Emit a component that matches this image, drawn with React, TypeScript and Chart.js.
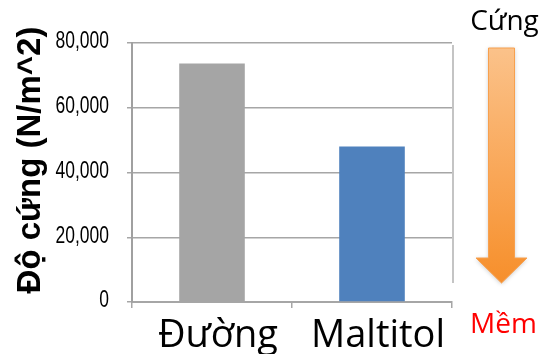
import React, { useEffect, useRef } from "react";
import { Chart, registerables } from "chart.js";

Chart.register(...registerables);

const categories = ["Đường", "Maltitol"];
const hardness = [73700, 48000];
const barColors = ["#a5a5a5", "#4f81bd"];
const yTickValues = [0, 20000, 40000, 60000, 80000];
const yTitle = "Độ cứng (N/m^2)";
const topLabel = "Cứng";
const bottomLabel = "Mềm";

const W = 548;
const H = 354;

const formatTick = (v: number) => v.toLocaleString("en-US");

// Condensed value labels for the y axis, placed at the scale's own tick positions.
const yLabels = {
  id: "yLabels",
  afterDraw(chart: Chart) {
    const ctx = chart.ctx;
    const y = chart.scales.y;
    ctx.save();
    ctx.font = "23px 'Liberation Sans', Arial, sans-serif";
    ctx.fillStyle = "#000";
    ctx.textAlign = "right";
    ctx.textBaseline = "middle";
    for (const v of yTickValues) {
      ctx.save();
      ctx.translate(109, y.getPixelForValue(v) - 1);
      ctx.scale(0.76, 1);
      ctx.fillText(formatTick(v), 0, 0);
      ctx.restore();
    }
    ctx.restore();
  },
};

// Side annotations: hardness arrow, its end labels, the rotated axis title and the frame line.
const decorations = {
  id: "decorations",
  afterDraw(chart: Chart) {
    const ctx = chart.ctx;
    const area = chart.chartArea;
    ctx.save();

    // right frame line
    ctx.strokeStyle = "#c4c4c4";
    ctx.lineWidth = 2;
    ctx.beginPath();
    ctx.moveTo(area.right + 1, area.top + 2);
    ctx.lineTo(area.right + 1, 283);
    ctx.stroke();

    // axis title
    ctx.save();
    ctx.translate(40, 160);
    ctx.rotate(-Math.PI / 2);
    ctx.font = "bold 33px 'Liberation Sans', Arial, sans-serif";
    ctx.fillStyle = "#000";
    ctx.textAlign = "center";
    ctx.textBaseline = "alphabetic";
    ctx.fillText(yTitle, 0, 0);
    ctx.restore();

    // arrow from hard to soft
    const cx = 501.5;
    const shaftHalf = 13;
    const headHalf = 25.5;
    const top = 48;
    const headTop = 258;
    const tip = 283;
    const grad = ctx.createLinearGradient(0, top, 0, tip);
    grad.addColorStop(0, "#fbc28a");
    grad.addColorStop(0.55, "#f9a656");
    grad.addColorStop(0.9, "#f79434");
    grad.addColorStop(1, "#f68f2c");
    ctx.beginPath();
    ctx.moveTo(cx - shaftHalf, top);
    ctx.lineTo(cx + shaftHalf, top);
    ctx.lineTo(cx + shaftHalf, headTop);
    ctx.lineTo(cx + headHalf, headTop);
    ctx.lineTo(cx, tip);
    ctx.lineTo(cx - headHalf, headTop);
    ctx.lineTo(cx - shaftHalf, headTop);
    ctx.closePath();
    ctx.shadowColor = "rgba(0,0,0,0.22)";
    ctx.shadowBlur = 4;
    ctx.shadowOffsetY = 1;
    ctx.fillStyle = grad;
    ctx.fill();
    ctx.shadowColor = "transparent";
    ctx.strokeStyle = "#f7a04e";
    ctx.lineWidth = 1;
    ctx.stroke();

    // arrow end labels
    ctx.font = "28px 'Open Sans', sans-serif";
    ctx.textAlign = "center";
    ctx.textBaseline = "alphabetic";
    ctx.fillStyle = "#000";
    ctx.fillText(topLabel, 504.5, 30);
    ctx.fillStyle = "#ff0000";
    ctx.fillText(bottomLabel, 503.5, 333);

    ctx.restore();
  },
};

export default function App() {
  const canvasRef = useRef<HTMLCanvasElement | null>(null);

  useEffect(() => {
    const canvas = canvasRef.current;
    if (!canvas) return;
    const chart = new Chart(canvas, {
      type: "bar",
      data: {
        labels: categories,
        datasets: [
          {
            data: hardness,
            backgroundColor: barColors,
            barPercentage: 0.41,
            categoryPercentage: 1,
          },
        ],
      },
      options: {
        responsive: false,
        animation: false,
        events: [],
        layout: { padding: { top: 43, right: 96, bottom: 0, left: 0 } },
        plugins: {
          legend: { display: false },
          tooltip: { enabled: false },
        },
        scales: {
          x: {
            offset: true,
            grid: {
              display: true,
              offset: true,
              drawOnChartArea: false,
              drawTicks: true,
              tickLength: 6,
              color: "#a6a6a6",
              lineWidth: 1.5,
            },
            border: { display: true, color: "#a6a6a6", width: 2 },
            ticks: {
              color: "#000",
              font: { family: "'Open Sans', sans-serif", size: 38 },
              padding: 5,
              labelOffset: 6,
              maxRotation: 0,
            },
            afterFit(scale: any) {
              scale.height = 52;
            },
          },
          y: {
            min: 0,
            max: 80000,
            afterBuildTicks(scale: any) {
              scale.ticks = yTickValues.map((v) => ({ value: v }));
            },
            grid: {
              color: "#a6a6a6",
              lineWidth: 1.5,
              tickLength: 5,
            },
            border: { display: true, color: "#a0a0a0", width: 2 },
            ticks: {
              display: false,
              callback: (v: any) => formatTick(Number(v)),
            },
            afterFit(scale: any) {
              scale.width = 132;
            },
          },
        },
      },
      plugins: [yLabels, decorations],
    });
    return () => chart.destroy();
  }, []);

  return (
    <div style={{ position: "fixed", left: 0, top: 0, width: W, height: H, background: "#fff" }}>
      <canvas ref={canvasRef} width={W} height={H} style={{ display: "block" }} />
    </div>
  );
}
